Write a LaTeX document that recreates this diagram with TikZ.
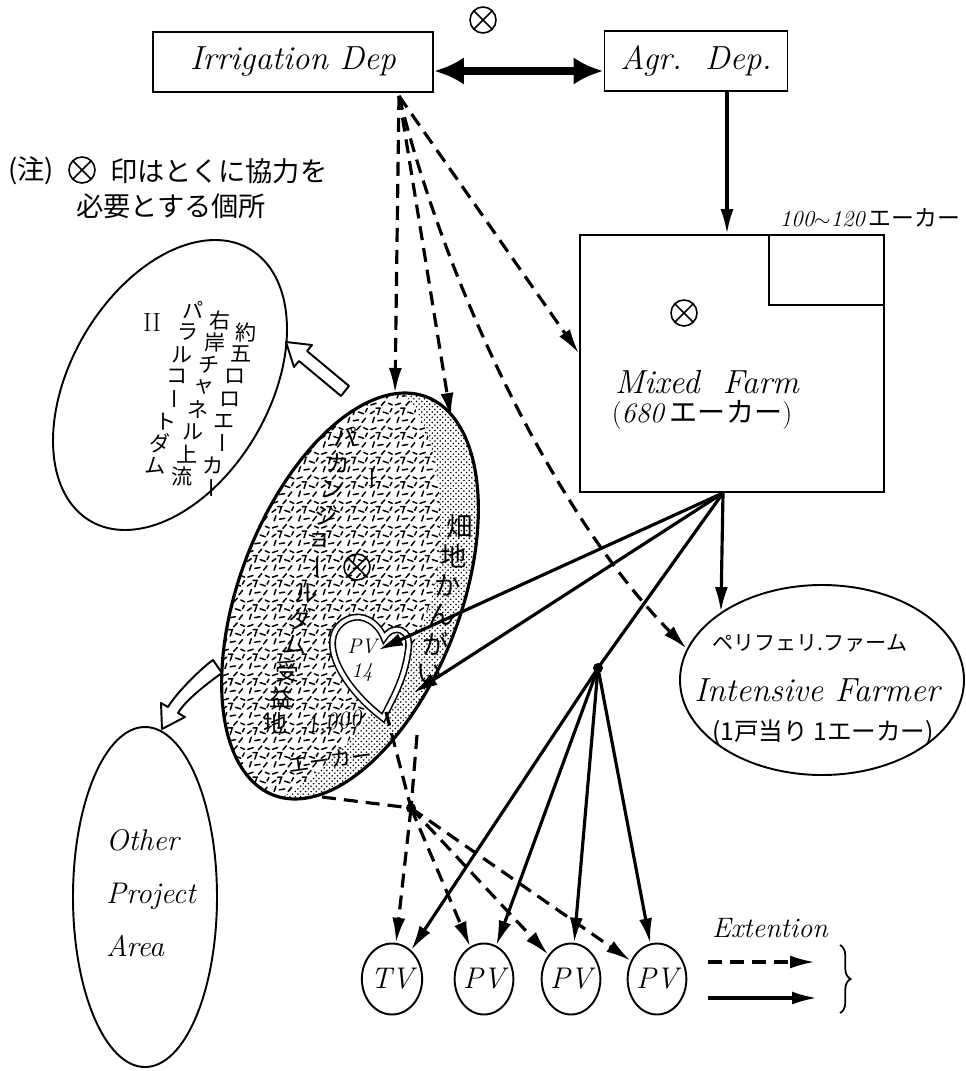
\documentclass[tikz,border=0pt]{standalone}
\usepackage{fontspec}
\usepackage{graphicx}
\newfontfamily\jp{Noto Sans CJK JP}
\usetikzlibrary{arrows.meta, shapes.geometric, positioning, calc, patterns, patterns.meta, decorations.pathreplacing}

\newcommand{\tatebar}{\rotatebox[origin=c]{-90}{ー}}

\tikzdeclarepattern{
  name=speckle,
  type=uncolored,
  bottom left={(-1pt,-1pt)},
  top right={(15pt,15pt)},
  tile size={(14pt,14pt)},
  code={
    \tikzset{x=1pt,y=1pt}
    \draw[line width=0.85pt,line cap=round]
      (1,1) -- (4,2) (7,0.8) -- (9,3) (11,2) -- (13.2,1)
      (2,5) -- (3,8) (5,6) -- (8,6.5) (10,5) -- (12,7.5)
      (0.8,10) -- (3,11.5) (5,9.5) -- (6,12.5) (8,11) -- (11,10)
      (4,13.2) -- (6.5,13.2) (12,11) -- (13,13);
  }
}

\tikzset{
  deptbox/.style={draw, line width=1.1pt, minimum width=#1, minimum height=12mm,
    font=\itshape\fontsize{19}{22}\selectfont},
  solidarrow/.style={line width=1.8pt, -{Latex[length=5mm,width=2.6mm]}},
  dasharrow/.style={solidarrow, dash pattern=on 2.8mm off 1.6mm},
  dashline/.style={line width=1.8pt, dash pattern=on 2.8mm off 1.6mm},
  village/.style={ellipse, draw, line width=1.1pt, minimum width=11.6mm,
    minimum height=14.2mm, inner sep=0pt, font=\itshape\fontsize{17}{20}\selectfont},
  tatechar/.style={font=\jp\fontsize{#1}{#1}\selectfont, inner sep=0pt},
  hollow/.style={draw, line width=1.1pt, fill=white, line join=round},
  xmark/.pic={\draw[line width=0.9pt] (0,0) circle (13) (-9,-9) -- (9,9) (-9,9) -- (9,-9);},
}

\begin{document}
\begin{tikzpicture}[x=0.2mm, y=-0.2mm]
\useasboundingbox (0,0) rectangle (966,1071);

% departments
\node[deptbox=56mm] (irr) at (293,62) {Irrigation Dep};
\node[deptbox=36.6mm] (agr) at (696,61) {Agr.\ \ Dep.};
\draw[line width=4pt, {Latex[length=6mm,width=5.5mm]}-{Latex[length=6mm,width=5.5mm]}]
  ($(irr.east)+(0,9)$) -- ($(agr.west)+(0,10)$);
\pic at (483,20) {xmark};

% note on the cross mark
\node[font=\jp\fontsize{15.5}{18}\selectfont, anchor=west] (notea) at (2,171) {(注)};
\pic at (82,170) {xmark};
\node[font=\jp\fontsize{15.5}{18}\selectfont, anchor=west] (noteb) at (104,171) {印はとくに協力を};
\node[font=\jp\fontsize{15.5}{18}\selectfont, anchor=west] (notec) at (70,206) {必要とする個所};

% mixed farm
\node[draw, line width=1.1pt, minimum width=60.8mm, minimum height=51.4mm] (mixed) at (732,363.5) {};
\draw[line width=1.1pt] ($(mixed.north east)+(-116,0)$) |- ($(mixed.north east)+(0,71)$);
\node[font=\fontsize{13}{15}\selectfont] (acre) at (870,218) {\itshape 100$\sim$120\,{\jp\upshape エーカー}};
\pic at (684,313) {xmark};
\node[font=\itshape\fontsize{19}{22}\selectfont] (mixname) at (707,382) {Mixed\ \ Farm};
\node[font=\fontsize{16}{19}\selectfont] (mixsize) at (702,415) {(\textit{680}\,{\jp エーカー})};
\draw[solidarrow] ($(agr.south)+(31,0)$) -- ($(mixed.north)+(-5,0)$);

% area II
\draw[line width=1.1pt] plot[domain=0:354, samples=60, smooth cycle]
  ({170+108*cos(\x)+45*sin(\x)}, {385-145*sin(\x)});
\foreach \ch [count=\k from 0] in {約,五,ロ,ロ,エ,\tatebar,カ,\tatebar}
  \node[tatechar=12] (colone\k) at ($(246,332)!{\k/7}!(208,488)$) {\ch};
\foreach \ch [count=\k from 0] in {右,岸,チ,ャ,ネ,ル,上,流}
  \node[tatechar=12] (coltwo\k) at ($(220,320)!{\k/7}!(182,476)$) {\ch};
\foreach \ch [count=\k from 0] in {パ,ラ,ル,コ,\tatebar,ト,ダ,ム}
  \node[tatechar=12] (colthree\k) at ($(193,310)!{\k/7}!(155,466)$) {\ch};
\node[font=\fontsize{15}{17}\selectfont] (two) at (152,322) {II};

% benefited area
\begin{scope}
  \clip plot[domain=0:354, samples=60, smooth cycle]
    ({350+116*cos(\x)+55*sin(\x)}, {596-203*sin(\x)});
  \fill[white] (200,380) rectangle (500,820);
  \fill[pattern=crosshatch dots] (200,380) rectangle (500,820);
  \fill[white] (395,385) .. controls (430,415) and (442,470) .. (440,540)
    .. controls (438,610) and (405,680) .. (340,750)
    .. controls (315,775) and (290,795) .. (260,810) -- (150,810) -- (150,360) -- cycle;
  \fill[pattern=speckle] (395,385) .. controls (430,415) and (442,470) .. (440,540)
    .. controls (438,610) and (405,680) .. (340,750)
    .. controls (315,775) and (290,795) .. (260,810) -- (150,810) -- (150,360) -- cycle;
\end{scope}
\draw[line width=1.8pt] plot[domain=0:354, samples=60, smooth cycle]
  ({350+116*cos(\x)+55*sin(\x)}, {596-203*sin(\x)});
\draw[line width=0.9pt, fill=white, double=white, double distance=2.2pt]
  (383,718) .. controls (340,685) and (318,640) .. (343,622)
  .. controls (360,610) and (378,622) .. (384,638)
  .. controls (393,623) and (413,628) .. (408,652)
  .. controls (404,680) and (392,700) .. (383,718) -- cycle;
\node[font=\itshape\fontsize{12}{13.7}\selectfont, align=center] (pvfourteen) at (362,660) {PV\\14};
\foreach \ch [count=\k from 0] in {パ,カ,ン,ジ,ョ,\tatebar,ル,ダ,ム,受,益,地}
  \node[tatechar=13.5] (benefit\k) at ($(345,437)!{\k/11}!(275,723)$) {\ch};
\node[font=\itshape\fontsize{14}{16}\selectfont, rotate=8] (thousand) at (334,724) {1,000};
\node[font=\jp\fontsize{12}{14}\selectfont, rotate=8] (benefitacre) at (330,760) {エーカー};
\node[font=\fontsize{15}{17}\selectfont] (one) at (372,477) {I};
\pic at (357,567) {xmark};
\foreach \ch [count=\k from 0] in {畑,地,か,ん,が,い}
  \node[tatechar=15] (upland\k) at ($(460,527)!{\k/5}!(430,673)$) {\ch};

% hollow arrows
\draw[hollow] (286,342) -- (312,345) -- (307,351) -- (349,386) -- (341,396)
  -- (299,361) -- (294,367) -- cycle;
\draw[hollow] (162,729) -- (161,703) -- (168,707) .. controls (175.5,694) and (200.7,668.5) .. (213,660)
  -- (222,673) .. controls (209.7,681.5) and (185.5,700) .. (178,713) -- (185,717) -- cycle;

% other project area
\node[ellipse, draw, line width=1.1pt, minimum width=28.8mm, minimum height=68mm] (other) at (145,897) {};
\node[font=\itshape\fontsize{17}{30}\selectfont, align=left, anchor=west] (othertext) at (100,893) {Other\\Project\\Area};

% intensive farmer
\node[ellipse, draw, line width=1.1pt, minimum width=56.8mm, minimum height=38mm, inner sep=0pt] (intensive) at (822,680) {};
\node[font=\jp\fontsize{12}{14}\selectfont] (periname) at (810,643) {ペリフェリ.ファーム};
\node[font=\itshape\fontsize{19}{22}\selectfont] (intname) at (817,690) {Intensive Farmer};
\node[font=\jp\fontsize{14}{16}\selectfont] (intsize) at (823,733) {(1戸当り\ 1エーカー)};

% villages
\node[village] (tv) at (392,979) {TV};
\node[village] (pvone) at (484,979) {PV};
\node[village] (pvtwo) at (571,979) {PV};
\node[village] (pvthree) at (657,979) {PV};

% points used by the connectors
\coordinate (irrfoot) at ($(irr.south east)+(-35,3)$);
\coordinate (mixfoot) at ($(mixed.south)+(-9,0)$);
\coordinate (blobtop) at (395,393);
\coordinate (bandtop) at (451,418);
\coordinate (pvtip) at (378,650);
\coordinate (bandtip) at (413,693);
\coordinate (pvfoot) at (386,712);
\coordinate (bandfoot) at (417,735);
\coordinate (blobfoot) at (322,797);
\coordinate (sj) at (598,668);
\coordinate (dj) at (411,808);

% irrigation extension (dashed)
\draw[dasharrow] (irrfoot) -- (blobtop);
\draw[dasharrow] (irrfoot) -- (bandtop);
\draw[dasharrow] (irrfoot) .. controls (450,300) and (560,520) .. (intensive.167);
\draw[dasharrow] (irrfoot) -- ($(mixed.west)+(0,-10)$);
\draw[dashline] (bandfoot) -- (dj);
\draw[dashline] (pvfoot) -- (dj);
\draw[dashline] (blobfoot) -- (dj);
\foreach \vil in {tv,pvone,pvtwo,pvthree}
  \draw[dasharrow] (dj) -- (\vil);

% farm extension (solid)
\draw[solidarrow] (mixfoot) -- (pvtip);
\draw[solidarrow] (mixfoot) -- (bandtip);
\draw[line width=1.8pt] (mixfoot) -- (sj);
\draw[solidarrow] (mixfoot) -- (intensive.north west);
\foreach \vil in {tv,pvone,pvtwo,pvthree}
  \draw[solidarrow] (sj) -- (\vil);
\fill (sj) circle (5);
\fill (dj) circle (5);

% legend
\node[font=\itshape\fontsize{16}{19}\selectfont] (ext) at (770,928) {Extention};
\coordinate (lega) at (708,962);
\coordinate (legb) at (815,962);
\coordinate (legc) at (708,998);
\coordinate (legd) at (817,998);
\coordinate (bracetop) at (840,945);
\coordinate (bracebot) at (840,1013);
\draw[dasharrow] (lega) -- (legb);
\draw[solidarrow] (legc) -- (legd);
\draw[line width=1pt, decorate, decoration={brace, amplitude=6pt}] (bracetop) -- (bracebot);
\end{tikzpicture}
\end{document}
